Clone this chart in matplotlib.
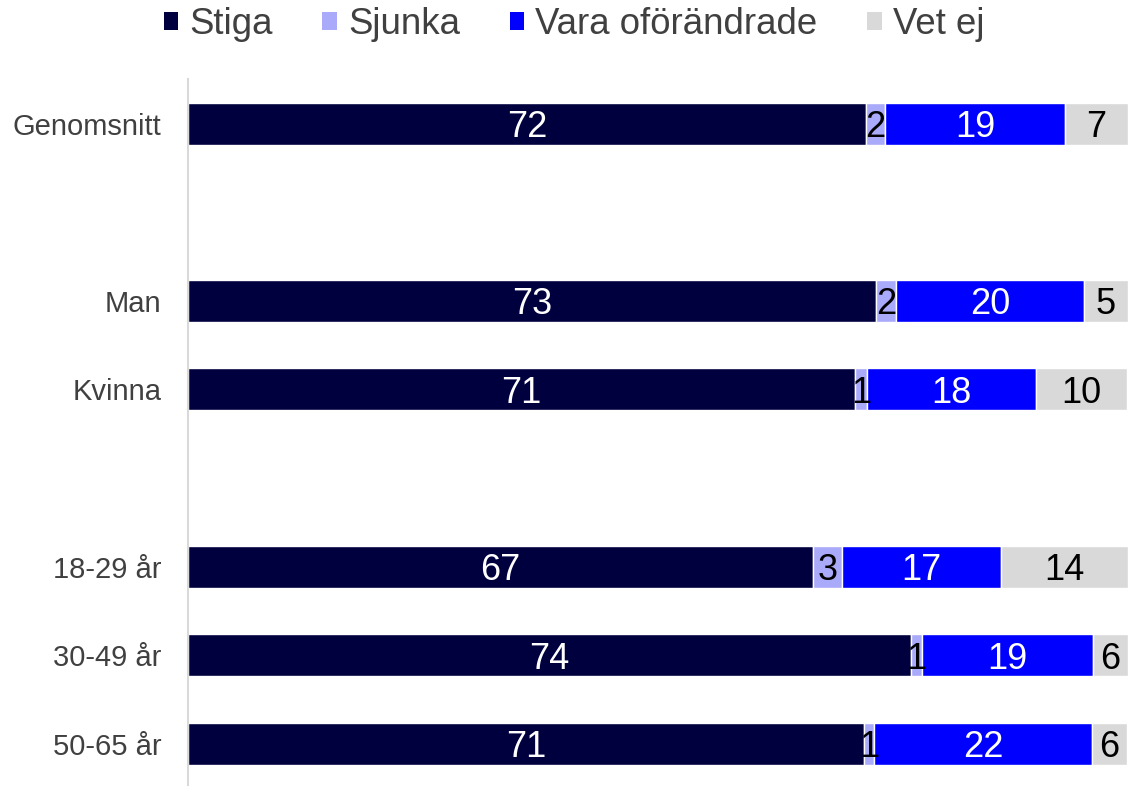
import matplotlib
matplotlib.use("Agg")
import matplotlib.pyplot as plt
from matplotlib.patches import Patch

plt.rcParams['font.family'] = ['Liberation Sans', 'DejaVu Sans']

# Grupper (tomma rader mellan blocken)
groups = ['Genomsnitt', 'Man', 'Kvinna', '18-29 år', '30-49 år', '50-65 år']
slots = [0, 2, 3, 5, 6, 7]

series = ['Stiga', 'Sjunka', 'Vara oförändrade', 'Vet ej']
colors = ['#00003F', '#AAAAFA', '#0000FF', '#D9D9D9']
text_colors = ['white', 'black', 'white', 'black']

# Stapelbredder
stiga_w = [72.1, 73.2, 71.0, 66.5, 76.9, 71.9]
sjunka_w = [2.1, 2.1, 1.2, 3.1, 1.2, 1.1]
vara_w = [19.1, 20.0, 18.0, 16.9, 18.2, 23.2]
vetej_w = [6.7, 4.7, 9.7, 13.5, 3.7, 3.7]

# Etiketter som visas i staplarna
stiga_lbl = [72, 73, 71, 67, 74, 71]
sjunka_lbl = [2, 2, 1, 3, 1, 1]
vara_lbl = [19, 20, 18, 17, 19, 22]
vetej_lbl = [7, 5, 10, 14, 6, 6]

widths = [stiga_w, sjunka_w, vara_w, vetej_w]
labels = [stiga_lbl, sjunka_lbl, vara_lbl, vetej_lbl]

fig = plt.figure(figsize=(11.28, 7.86), dpi=100)
ax = fig.add_axes([188 / 1128, -2 / 786, 940 / 1128, 708.6 / 786])

left = [0.0] * len(groups)
for name, w, lbl, col, tcol in zip(series, widths, labels, colors, text_colors):
    bars = ax.barh(slots, w, left=left, height=0.474, color=col,
                   edgecolor='white', linewidth=1.0, label=name)
    texts = ax.bar_label(bars, labels=[str(v) for v in lbl], label_type='center',
                         color=tcol, fontsize=26)
    for t in texts:
        t.set_va('center_baseline')
    left = [a + b for a, b in zip(left, w)]

ax.set_xlim(0, 100)
ax.set_ylim(7.5, -0.5)
ax.set_yticks(slots)
ax.set_yticklabels(groups, fontsize=21, color='#404040')
ax.tick_params(axis='y', length=0, pad=19)
ax.set_xticks([])
for s in ['top', 'right', 'bottom']:
    ax.spines[s].set_visible(False)
ax.spines['left'].set_color('#D9D9D9')
ax.spines['left'].set_linewidth(1.5)

handles = [Patch(facecolor=c, edgecolor='none') for c in colors]
leg = fig.legend(handles, series, loc='upper center',
                 bbox_to_anchor=(574 / 1128, 1.033), ncol=4, frameon=False,
                 fontsize=26.4, handlelength=0.4, handleheight=0.4,
                 handletextpad=0.3, columnspacing=1.35)
for t in leg.get_texts():
    t.set_color('#404040')

fig.savefig('out.png', dpi=100)
